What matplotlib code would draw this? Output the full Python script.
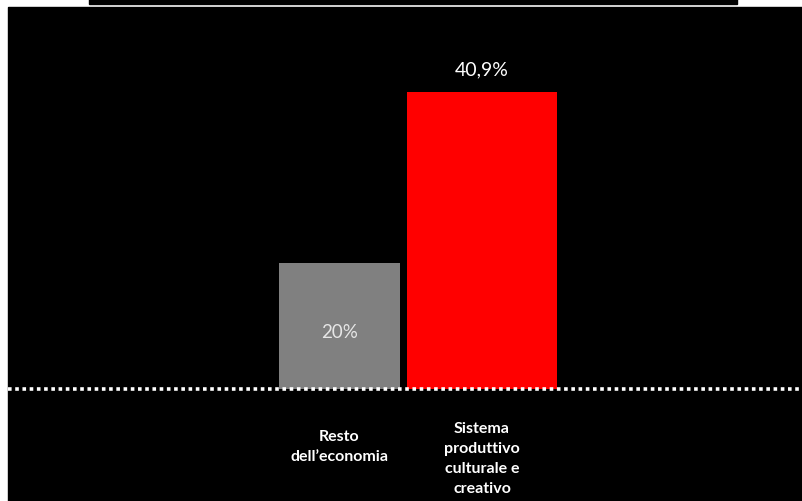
import matplotlib
matplotlib.use("Agg")
from matplotlib import pyplot as plt
from matplotlib.patches import Rectangle

categories = ["Resto\ndell\u2019economia", "Sistema\nproduttivo\nculturale e\ncreativo"]
values = [20.0, 40.9]
value_labels = ["20%", "40,9%"]
bar_colors = ["#808080", "#ff0000"]
bar_widths = [0.85, 1.05]

plt.rcParams["font.family"] = ["Lato", "DejaVu Sans"]

fig = plt.figure(figsize=(8.02, 5.02), dpi=100, facecolor="white")

# black slide panel and the bottom of the cut off title box
fig.patches.append(Rectangle((8 / 802, 0), 1 - 8 / 802, 494 / 502,
                             transform=fig.transFigure, color="black", zorder=-10))
fig.patches.append(Rectangle((89 / 802, 1 - 4.5 / 502), 648 / 802, 4.5 / 502,
                             transform=fig.transFigure, color="black", zorder=-10))

ax = fig.add_axes([8 / 802, 112 / 502, 794 / 802, 382 / 502])
ax.set_zorder(1)
ax.set_facecolor("black")
ybase = 4.6
ax.set_ylim(ybase, ybase + 382 / 8.19)
ax.set_xlim(-2.326, 3.246)

xs = list(range(len(values)))
ax.bar(xs, values, width=bar_widths, color=bar_colors, zorder=2)

# value labels
ax.annotate(value_labels[0], xy=(0, values[0]), xytext=(0, -69), textcoords="offset pixels",
            ha="center", va="center", color="#e6e6e6", fontsize=13.5)
ax.annotate(value_labels[1], xy=(1, values[1]), xytext=(0, 23), textcoords="offset pixels",
            ha="center", va="center", color="white", fontsize=14)

# category labels under the dotted line
offsets = [-57, -69]
for x, lab, off in zip(xs, categories, offsets):
    ax.annotate(lab, xy=(x, ybase), xytext=(0, off), textcoords="offset pixels",
                ha="center", va="center", color="white", fontsize=11.5,
                fontweight="bold", linespacing=1.55, annotation_clip=False)

ax.axhline(ybase, color="white", linewidth=2.6, linestyle=(0, (1, 1)),
           dash_capstyle="butt", clip_on=False, zorder=3)

ax.set_xticks([])
ax.set_yticks([])
for s in ax.spines.values():
    s.set_visible(False)

fig.savefig("out.png", dpi=100, facecolor="white")
